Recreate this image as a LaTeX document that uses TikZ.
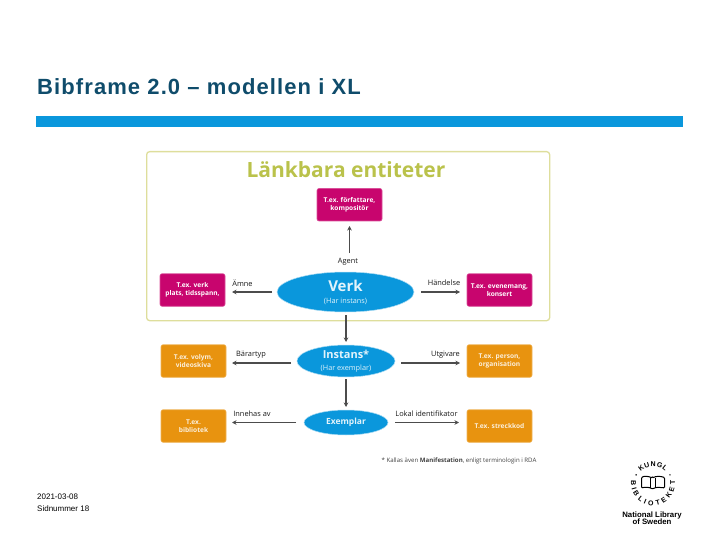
\documentclass[tikz,border=0pt]{standalone}
\usepackage{fontspec}
\setmainfont{Liberation Sans}
\newfontfamily\chartfont{Open Sans}
\usetikzlibrary{positioning, arrows.meta, shapes.geometric, decorations.text}

\definecolor{kbblue}{HTML}{0A97DC}
\definecolor{kbtitle}{HTML}{0F4C6B}
\definecolor{kbframe}{HTML}{DEDE9C}
\definecolor{kbolive}{HTML}{BAC24B}
\definecolor{kbpink}{HTML}{C8056E}
\definecolor{kborange}{HTML}{E8930F}

\newcommand{\px}[1]{\fontsize{#1}{#1}\selectfont}

\begin{document}
\begin{tikzpicture}[
    x=1pt, y=-1pt,
    pinkbox/.style={draw=kbpink!70, line width=0.6pt, fill=kbpink, rounded corners=2pt, text=white,
      minimum width=65pt, minimum height=32.5pt, inner sep=0pt, outer sep=0pt, align=center,
      font=\chartfont\bfseries\px{6.6}},
    orangebox/.style={pinkbox, draw=kborange!70, fill=kborange, text=white!85!kborange},
    entity/.style={ellipse, fill=kbblue, draw=kbblue!35, line width=0.5pt, text=white!88!kbblue,
      inner sep=0pt, outer sep=0pt, align=center, font=\chartfont\bfseries},
    link/.style={draw=black!70, line width=1.2pt, -{Stealth[length=4.5pt, width=4.5pt]}},
    linklabel/.style={font=\chartfont\px{7.4}, text=black!90, inner sep=0pt},
]
  \useasboundingbox (0,0) rectangle (720,540);

  \node[anchor=base west, inner sep=0pt, text=kbtitle, font=\bfseries\px{22}] (slidetitle) at (37,94.5)
    {\addfontfeature{LetterSpace=5}Bibframe 2.0 – modellen i XL};
  \node[fill=kbblue, minimum width=647pt, minimum height=11pt, inner sep=0pt, anchor=north west] (bar) at (36,116) {};

  \node[draw=kbframe, line width=1.3pt, rounded corners=3pt, minimum width=403pt, minimum height=169pt,
    inner sep=0pt, anchor=north west] (frame) at (146,151) {};
  \node[text=kbolive, font=\chartfont\bfseries\px{21}, inner sep=0pt] (frametitle) at (346,170) {Länkbara entiteter};

  % the three levels
  \node[entity, minimum width=137pt, minimum height=40pt] (verk) at (345.5,292)
    {\raisebox{-2pt}{\px{15}Verk}\\[2pt]{\mdseries\px{7.3}(Har instans)}};
  \node[entity, minimum width=98pt, minimum height=32pt] (instans) at (346,361)
    {\raisebox{-2pt}{\px{11}Instans*}\\[2pt]{\mdseries\px{7.3}(Har exemplar)}};
  \node[entity, minimum width=84pt, minimum height=25pt, font=\chartfont\bfseries\px{8.5}] (exemplar) at (346,422.5) {Exemplar};

  \node[pinkbox, anchor=south] (agentbox) at (349.5,221) {T.ex. författare,\\[1pt]kompositör};
  \node[pinkbox, left=52pt of verk, yshift=2pt] (amnebox) {T.ex. verk\\[1pt]plats, tidsspann,};
  \node[pinkbox, right=53pt of verk, yshift=2pt] (handelsebox) {T.ex. evenemang,\\[1pt]konsert};
  \node[orangebox, left=71pt of instans] (bararbox) {T.ex. volym,\\[1pt]videoskiva};
  \node[orangebox, right=72pt of instans] (utgivarebox) {T.ex. person,\\[1pt]organisation};
  \node[orangebox, left=78pt of exemplar, yshift=-3.5pt] (innehasbox) {T.ex.\\[1pt]bibliotek};
  \node[orangebox, right=79pt of exemplar, yshift=-3.5pt] (lokalbox) {T.ex. streckkod};

  \draw[link, shorten <=19pt, shorten >=5pt] (agentbox.south |- verk.north) -- (agentbox.south);
  \draw[link, shorten <=5pt, shorten >=7pt] (verk.west) -- (verk.west -| amnebox.east);
  \draw[link, shorten <=7pt, shorten >=7pt] (verk.east) -- (verk.east -| handelsebox.west);
  \draw[link, shorten <=3pt, shorten >=3pt] (verk.south -| frametitle) -- (instans.north -| frametitle);
  \draw[link, shorten <=2pt, shorten >=3pt] (instans.south -| frametitle) -- (exemplar.north -| frametitle);
  \draw[link, shorten <=6pt, shorten >=6pt] ([yshift=-2pt]instans.west) -- ([yshift=-2pt]instans.west -| bararbox.east);
  \draw[link, shorten <=6pt, shorten >=7pt] ([yshift=-2pt]instans.east) -- ([yshift=-2pt]instans.east -| utgivarebox.west);
  \draw[link, shorten <=8pt, shorten >=6pt] (exemplar.west) -- (exemplar.west -| innehasbox.east);
  \draw[link, shorten <=7pt, shorten >=8pt] (exemplar.east) -- (exemplar.east -| lokalbox.west);

  \node[linklabel] (agentlabel) at (348,262) {Agent};
  \node[linklabel] (amnelabel) at (242.5,283) {Ämne};
  \node[linklabel] (handelselabel) at (444,283) {Händelse};
  \node[linklabel] (bararlabel) at (251,355) {Bärartyp};
  \node[linklabel] (utgivarelabel) at (445.5,355) {Utgivare};
  \node[linklabel] (innehaslabel) at (252,413.5) {Innehas av};
  \node[linklabel] (lokallabel) at (426.5,413.5) {Lokal identifikator};

  \node[font=\chartfont\px{6.1}, text=black!75, inner sep=0pt] (note) at (459,461)
    {* Kallas även \textbf{Manifestation}, enligt terminologin i RDA};

  \node[anchor=base west, inner sep=0pt, font=\px{8}] (datetext) at (37,499) {2021-03-08};
  \node[anchor=base west, inner sep=0pt, font=\px{8}] (pagetext) at (37,511) {Sidnummer 18};

  % seal
  \coordinate (seal) at (653,483.5);
  \path[decorate, decoration={text along path, text align=fit to path,
      text={|\bfseries\px{7}|BIBLIOTEKET}}]
    ([shift={(172:22pt)}]seal) arc[start angle=172, end angle=368, radius=22pt];
  \path[decorate, decoration={text along path, text align=fit to path,
      text={|\bfseries\px{7}|KUNGL}}]
    ([shift={(136:17pt)}]seal) arc[start angle=136, end angle=44, radius=17pt];
  \fill ([shift={(153:19pt)}]seal) circle[radius=0.8pt] ([shift={(27:19pt)}]seal) circle[radius=0.8pt];
  \draw[line width=1pt, rounded corners=1pt] (652.5,478) .. controls (648,476) and (644,476) .. (641.5,477.5)
    -- (641.5,488) .. controls (645,487) and (649,487) .. (652.5,489) .. controls (656,487) and (660,487) .. (664.5,488)
    -- (664.5,477.5) .. controls (660,476) and (656,476) .. (652.5,478) -- cycle;
  \draw[line width=0.8pt] (650,477.5) -- (650,488) (655,477.5) -- (655,488);
  \node[font=\bfseries\px{7.8}, align=center, inner sep=0pt] (kbname) at (652,518.5)
    {National Library\\[-1pt]of Sweden};
\end{tikzpicture}
\end{document}
